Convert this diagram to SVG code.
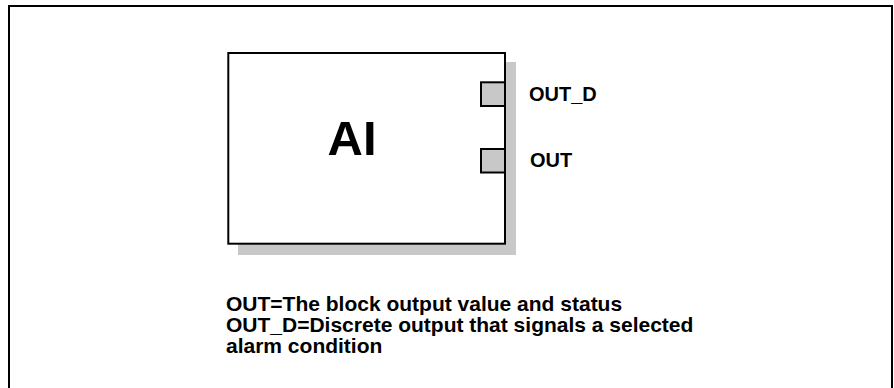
<svg xmlns="http://www.w3.org/2000/svg" width="894" height="388" viewBox="0 0 894 388">
<style>
text{font-family:"Liberation Sans",Arial,sans-serif;font-weight:bold;fill:#000}
.port{fill:#c8c8c8;stroke:#000;stroke-width:2}
.lbl{font-size:20px}
.note{font-size:21px}
</style>
<rect width="894" height="388" fill="#fff"/>
<rect x="9" y="6" width="883" height="420" fill="none" stroke="#000" stroke-width="2"/>
<g id="ai-block">
<rect x="238" y="62" width="278" height="193" fill="#c8c8c8"/>
<rect x="228.3" y="53" width="276.7" height="190.7" fill="#fff" stroke="#000" stroke-width="2"/>
<text x="352" y="155" font-size="49" text-anchor="middle">AI</text>
</g>
<g id="port-out-d">
<rect class="port" x="481" y="82.3" width="24" height="23.7"/>
<text class="lbl" x="529" y="101">OUT_D</text>
</g>
<g id="port-out">
<rect class="port" x="481" y="149" width="24" height="23.5"/>
<text class="lbl" x="530" y="166.5">OUT</text>
</g>
<g id="connectors"></g>
<g id="legend">
<text class="note" x="226" y="311">OUT=The block output value and status</text>
<text class="note" x="226" y="332">OUT_D=Discrete output that signals a selected</text>
<text class="note" x="226" y="353">alarm condition</text>
</g>
</svg>
